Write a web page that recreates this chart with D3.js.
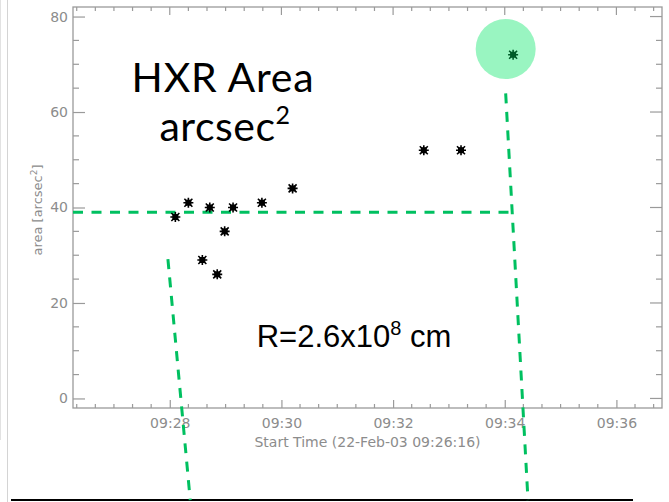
<!DOCTYPE html>
<html>
<head>
<meta charset="utf-8">
<script src="https://cdn.jsdelivr.net/npm/d3@7"></script>
<style>
  html, body { margin: 0; padding: 0; background: #fff; }
  svg { display: block; }
</style>
</head>
<body>
<svg id="chart" width="669" height="502"></svg>
<script>
// HXR source area versus start time (RHESSI flare, 22-Feb-2003)
const startTimes = ["09:28:06", "09:28:20", "09:28:35", "09:28:43", "09:28:51", "09:28:59",
                    "09:29:08", "09:29:39", "09:30:12", "09:32:33", "09:33:13", "09:34:09"];
const areaValues = [38, 41, 29, 40, 26, 35, 40, 41, 44, 52, 52, 72];

const yTickValues = [0, 20, 40, 60, 80];
const xTickLabels = ["09:28", "09:30", "09:32", "09:34", "09:36"];

// Annotation overlays, in data coordinates (time, area)
const levelLine = [["09:26:16", 39], ["09:34:08", 39]];
const leftSlant = [["09:27:58", 29.2], ["09:28:22", -21.3]];
const rightSlant = [["09:34:01", 63.9], ["09:34:25", -21.3]];
const highlight = ["09:34:01", 73.2];

const day = "2003-02-22T";
const parseT = s => new Date(day + s + "Z");

const svg = d3.select("#chart");
const W = 669, H = 502;

const x = d3.scaleUtc()
  .domain([parseT("09:26:16"), parseT("09:36:49")])
  .range([73, 662]);
const y = d3.scaleLinear().domain([-2, 82]).range([408, 7]);

const frameColor = "#9a9a9a";
const textColor = "#8c8c8c";
const green = "#00c060";

// slide edges
svg.append("line").attr("x1", 7.5).attr("x2", 7.5).attr("y1", 0).attr("y2", H)
  .attr("stroke", "#d4d4d4").attr("stroke-width", 1);
svg.append("line").attr("x1", 0.5).attr("x2", 0.5).attr("y1", 0).attr("y2", 440)
  .attr("stroke", "#e2e2e2").attr("stroke-width", 1);
svg.append("line").attr("x1", 11).attr("x2", 633).attr("y1", 500).attr("y2", 500)
  .attr("stroke", "#000").attr("stroke-width", 2);

// plot frame
const [x0, x1] = x.range();
const [yb, yt] = y.range();
svg.append("rect").attr("x", x0).attr("y", yt).attr("width", x1 - x0).attr("height", yb - yt)
  .attr("fill", "none").attr("stroke", frameColor).attr("stroke-width", 1.3);

// y axes (left and mirrored right), major every 20, minor every 5
const yMinor = d3.range(0, 81, 5).filter(v => v % 20 !== 0);
const yAxisL = d3.axisLeft(y).tickValues(yTickValues).tickSize(-12).tickPadding(17).tickFormat(d3.format("d"));
const gl = svg.append("g").attr("transform", `translate(${x0},0)`).call(yAxisL);
gl.select(".domain").remove();
gl.selectAll("line").attr("stroke", frameColor).attr("stroke-width", 1.2);
gl.selectAll("text").attr("fill", textColor).attr("font-family", "DejaVu Sans")
  .attr("font-size", 14).attr("x", -5);
svg.append("g").selectAll("line").data(yMinor).join("line")
  .attr("x1", x0).attr("x2", x0 + 6).attr("y1", d => y(d)).attr("y2", d => y(d))
  .attr("stroke", frameColor).attr("stroke-width", 1.2);
svg.append("g").selectAll("line").data(yTickValues).join("line")
  .attr("x1", x1).attr("x2", x1 - 12).attr("y1", d => y(d)).attr("y2", d => y(d))
  .attr("stroke", frameColor).attr("stroke-width", 1.2);
svg.append("g").selectAll("line").data(yMinor).join("line")
  .attr("x1", x1).attr("x2", x1 - 6).attr("y1", d => y(d)).attr("y2", d => y(d))
  .attr("stroke", frameColor).attr("stroke-width", 1.2);

// x axes (bottom and mirrored top), major every 2 min, minor every 20 s
const xMajor = xTickLabels.map(s => parseT(s + ":00"));
const xMinor = d3.utcSecond.every(20).range(x.domain()[0], x.domain()[1])
  .filter(d => !(d.getUTCSeconds() === 0 && d.getUTCMinutes() % 2 === 0));
const xAxisB = d3.axisBottom(x).tickValues(xMajor).tickSize(-8).tickPadding(10)
  .tickFormat((d, i) => xTickLabels[i]);
const gb = svg.append("g").attr("transform", `translate(0,${yb})`).call(xAxisB);
gb.select(".domain").remove();
gb.selectAll("line").attr("stroke", frameColor).attr("stroke-width", 1.2);
gb.selectAll("text").attr("fill", textColor).attr("font-family", "DejaVu Sans").attr("font-size", 14);
svg.append("g").selectAll("line").data(xMinor).join("line")
  .attr("x1", d => x(d)).attr("x2", d => x(d)).attr("y1", yb).attr("y2", yb - 4)
  .attr("stroke", frameColor).attr("stroke-width", 1.2);
svg.append("g").selectAll("line").data(xMajor).join("line")
  .attr("x1", d => x(d)).attr("x2", d => x(d)).attr("y1", yt).attr("y2", yt + 8)
  .attr("stroke", frameColor).attr("stroke-width", 1.2);
svg.append("g").selectAll("line").data(xMinor).join("line")
  .attr("x1", d => x(d)).attr("x2", d => x(d)).attr("y1", yt).attr("y2", yt + 4)
  .attr("stroke", frameColor).attr("stroke-width", 1.2);

// axis titles
svg.append("text").attr("x", (x0 + x1) / 2).attr("y", 447).attr("text-anchor", "middle")
  .attr("fill", textColor).attr("font-family", "DejaVu Sans").attr("font-size", 14)
  .text("Start Time (22-Feb-03 09:26:16)");
const yt_ = svg.append("text").attr("transform", "translate(42,210) rotate(-90)")
  .attr("text-anchor", "middle").attr("fill", textColor)
  .attr("font-family", "DejaVu Sans").attr("font-size", 13);
yt_.append("tspan").text("area [arcsec");
yt_.append("tspan").attr("dy", -5).attr("font-size", 9).text("2");
yt_.append("tspan").attr("dy", 5).text("]");

// dashed annotation lines
const lineGen = d3.line().x(d => x(parseT(d[0]))).y(d => y(d[1]));
[levelLine, leftSlant, rightSlant].forEach(seg => {
  svg.append("path").attr("d", lineGen(seg)).attr("fill", "none")
    .attr("stroke", green).attr("stroke-width", 3).attr("stroke-dasharray", "10,8.5");
});

// data points (asterisks)
const pts = startTimes.map((t, i) => ({ t: parseT(t), v: areaValues[i] }));
const star = "M-5,0H5M0,-5V5M-4,-4L4,4M-4,4L4,-4";
svg.append("g").selectAll("path").data(pts).join("path")
  .attr("transform", d => `translate(${x(d.t)},${y(d.v)})`)
  .attr("d", star).attr("stroke", "#000").attr("stroke-width", 1.6).attr("fill", "none");
svg.append("g").selectAll("rect").data(pts).join("rect")
  .attr("x", d => x(d.t) - 3).attr("y", d => y(d.v) - 3).attr("width", 6).attr("height", 6)
  .attr("fill", "#000");

// highlight disc over the peak
svg.append("circle").attr("cx", x(parseT(highlight[0]))).attr("cy", y(highlight[1])).attr("r", 30)
  .attr("fill", "rgb(0,230,100)").attr("fill-opacity", 0.4);

// slide labels
const big = svg.append("g").attr("font-family", "Lato, 'Open Sans', sans-serif").attr("fill", "#000");
big.append("text").attr("x", 223).attr("y", 92).attr("text-anchor", "middle")
  .attr("font-size", 41).attr("letter-spacing", 0.8).text("HXR Area");
const t2 = big.append("text").attr("x", 225).attr("y", 141).attr("text-anchor", "middle")
  .attr("font-size", 41).attr("letter-spacing", 0.5);
t2.append("tspan").text("arcsec");
t2.append("tspan").attr("dy", -17).attr("font-size", 25).text("2");

const r = svg.append("text").attr("x", 354).attr("y", 347).attr("text-anchor", "middle")
  .attr("font-family", "'Liberation Sans', Arial, sans-serif").attr("font-size", 31).attr("fill", "#000");
r.append("tspan").text("R=2.6x10");
r.append("tspan").attr("dy", -12).attr("font-size", 20).text("8");
r.append("tspan").attr("dy", 12).text(" cm");
</script>
</body>
</html>
